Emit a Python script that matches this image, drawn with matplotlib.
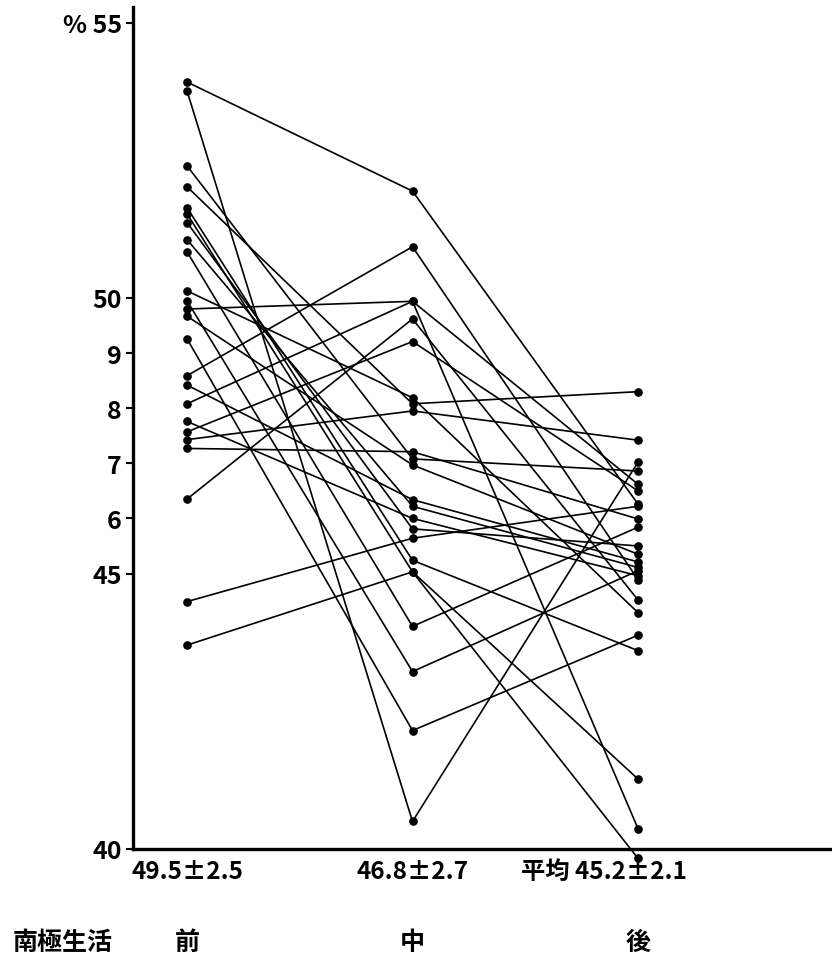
import matplotlib
matplotlib.use("Agg")
import matplotlib.pyplot as plt
from matplotlib.transforms import blended_transform_factory

plt.rcParams['font.family'] = ['Noto Sans CJK JP', 'DejaVu Sans']

# ---- data ----
stages = ["前", "中", "後"]
stage_means = ["49.5±2.5", "46.8±2.7", "平均 45.2±2.1"]
row_label = "南極生活"

pre = [53.92, 53.76, 52.40, 52.02, 51.64, 51.53, 51.37, 51.06, 50.84, 50.13,
       49.95, 49.80, 49.67, 49.26, 48.59, 48.42, 48.08, 47.76, 47.57, 47.43,
       47.27, 46.35, 44.49, 43.70]
mid = [51.94, 40.50, 47.08, 48.08, 45.24, 45.03, 45.81, 46.22, 44.04, 48.19,
       43.22, 49.94, 46.97, 42.15, 50.93, 46.34, 49.94, 46.00, 49.21, 47.95,
       47.21, 49.62, 45.64, 45.03]
post = [46.26, 47.02, 46.86, 48.30, 43.60, 39.83, 45.50, 45.11, 45.84, 44.29,
        45.05, 46.62, 45.35, 43.88, 44.89, 45.21, 40.37, 44.96, 46.50, 47.42,
        45.99, 44.52, 46.22, 41.27]

ytick_vals = [40, 45, 46, 47, 48, 49, 50, 55]
ytick_labels = ["40", "45", "6", "7", "8", "9", "50", "% 55"]

# ---- figure ----
fig = plt.figure(figsize=(8.32, 9.62), dpi=100)
ax = fig.add_axes([133/832, 1 - 850/962, 1 - 133/832, (850 - 8)/962])

xs = [0, 1, 2]
for a, b, c in zip(pre, mid, post):
    ax.plot(xs, [a, b, c], color='black', lw=1.2, marker='o', ms=5.2,
            mfc='black', mec='black', clip_on=False, solid_capstyle='round')

ax.set_xlim(-54/225.5, 645/225.5)
ax.set_ylim(40, 40 + 842/55.1)

for s in ['top', 'right']:
    ax.spines[s].set_visible(False)
for s in ['left', 'bottom']:
    ax.spines[s].set_linewidth(2.4)
    ax.spines[s].set_color('black')

ax.set_xticks([])
ax.set_yticks(ytick_vals)
ax.set_yticklabels(ytick_labels, fontsize=18, fontweight='bold')
ax.tick_params(axis='y', direction='out', length=5, width=1.5, pad=3)

trans = blended_transform_factory(ax.transData, fig.transFigure)
mean_x = [0, 1, (604 - 187)/225.5]
for x, t in zip(mean_x, stage_means):
    ax.text(x, 1 - 872/962, t, transform=trans, ha='center', va='center',
            fontsize=17.5, fontweight='bold')
for x, t in zip(xs, stages):
    ax.text(x, 1 - 943/962, t, transform=trans, ha='center', va='center',
            fontsize=18, fontweight='bold')
fig.text(13/832, 1 - 943/962, row_label, ha='left', va='center',
         fontsize=18, fontweight='bold')

fig.savefig("out.png", dpi=100)
